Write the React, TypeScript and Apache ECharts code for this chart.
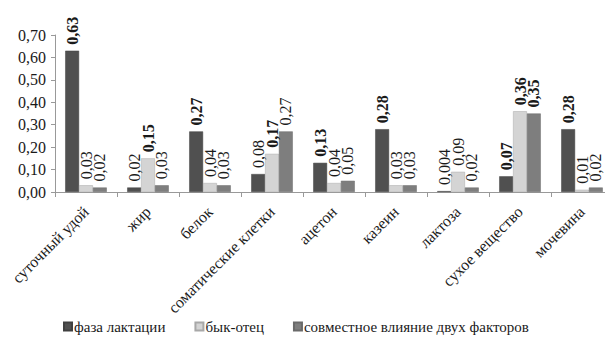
import React, { useEffect, useRef } from "react";
import * as echarts from "echarts";

const categories = [
  "суточный удой",
  "жир",
  "белок",
  "соматические клетки",
  "ацетон",
  "казеин",
  "лактоза",
  "сухое вещество",
  "мочевина",
];
const seriesNames = ["фаза лактации", "бык-отец", "совместное влияние двух факторов"];
const lactationPhase = [0.63, 0.02, 0.27, 0.08, 0.13, 0.28, 0.004, 0.07, 0.28];
const bullSire = [0.03, 0.15, 0.04, 0.17, 0.04, 0.03, 0.09, 0.36, 0.01];
const jointEffect = [0.02, 0.03, 0.03, 0.27, 0.05, 0.03, 0.02, 0.35, 0.02];
// which labels are printed in bold in the original
const lactationBold = [1, 0, 1, 0, 1, 1, 0, 1, 1];
const bullBold = [0, 1, 0, 1, 0, 0, 0, 1, 0];
const jointBold = [0, 0, 0, 0, 0, 0, 0, 1, 0];
const yTicks = { min: 0, max: 0.7, interval: 0.1 };

const colors = ["#505050", "#d4d4d4", "#7e7e7e"];
const FONT = "Times New Roman, Liberation Serif, serif";

export default function App() {
  const ref = useRef<HTMLDivElement>(null);
  useEffect(() => {
    if (!ref.current) return;
    const chart = echarts.init(ref.current, null, { renderer: "svg" });
    const fmt = (v: number) => String(v).replace(".", ",");
    const mk = (name: string, vals: number[], bold: number[], color: string, border: string) => ({
      name,
      type: "bar",
      barGap: "0%",
      barCategoryGap: "33%",
      itemStyle: { color, borderColor: border, borderWidth: 0.5 },
      data: vals.map((v, i) => ({
        value: v,
        label: { fontWeight: bold[i] ? "bold" : "normal", fontFamily: FONT },
      })),
      label: {
        show: true,
        position: "top",
        rotate: 90,
        align: "left",
        verticalAlign: "middle",
        distance: 6,
        fontFamily: FONT,
        fontSize: 16,
        color: "#1a1a1a",
        formatter: (p: any) => fmt(p.value),
      },
    });
    chart.setOption({
      animation: false,
      color: colors,
      textStyle: { fontFamily: FONT },
      grid: { left: 55, top: 35, width: 565, height: 157, containLabel: false },
      legend: {
        bottom: 5,
        left: 58,
        itemWidth: 8,
        itemHeight: 8,
        itemGap: 29,
        icon: "rect",
        textStyle: { fontFamily: FONT, fontSize: 15, color: "#1a1a1a", padding: [0, 0, 0, -3] },
        data: seriesNames,
      },
      xAxis: {
        type: "category",
        data: categories,
        axisLine: { lineStyle: { color: "#999" } },
        axisTick: { show: true, length: 5, lineStyle: { color: "#999" } },
        axisLabel: {
          interval: 0,
          rotate: 45,
          fontFamily: FONT,
          fontSize: 16,
          color: "#1a1a1a",
          margin: 17,
        },
      },
      yAxis: {
        type: "value",
        min: yTicks.min,
        max: yTicks.max,
        interval: yTicks.interval,
        splitLine: { show: false },
        axisLine: { show: true, lineStyle: { color: "#999" } },
        axisTick: { show: true, length: 4, lineStyle: { color: "#999" } },
        axisLabel: {
          fontFamily: FONT,
          fontSize: 16,
          color: "#1a1a1a",
          margin: 9,
          formatter: (v: number) => v.toFixed(2).replace(".", ","),
        },
      },
      series: [
        mk(seriesNames[0], lactationPhase, lactationBold, colors[0], "#404040"),
        mk(seriesNames[1], bullSire, bullBold, colors[1], "#a8a8a8"),
        mk(seriesNames[2], jointEffect, jointBold, colors[2], "#6a6a6a"),
      ],
    });
    return () => chart.dispose();
  }, []);
  return <div ref={ref} style={{ width: 613, height: 344, margin: -8 }} />;
}
